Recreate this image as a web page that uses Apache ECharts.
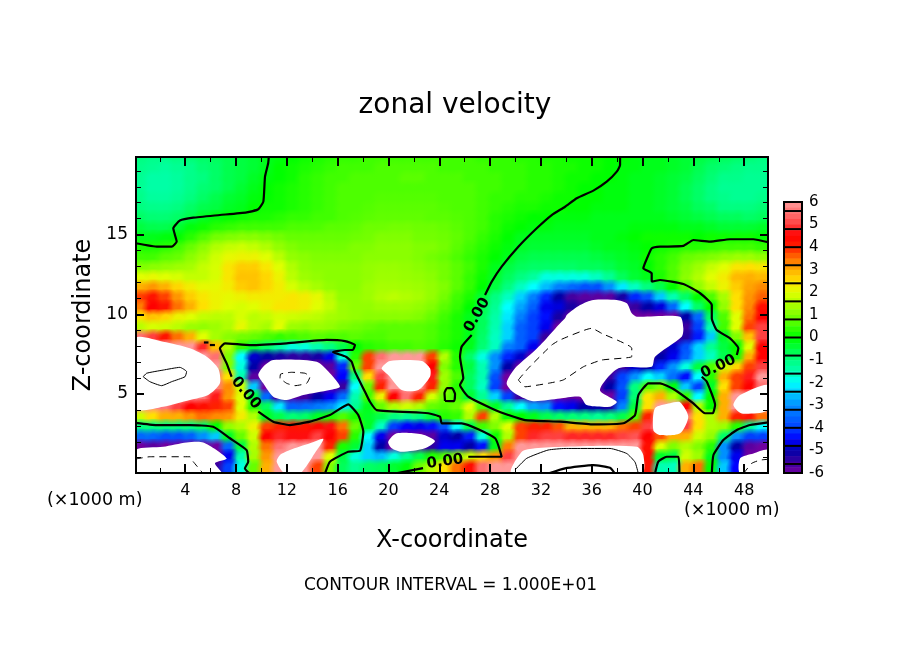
<!DOCTYPE html>
<html>
<head>
<meta charset="utf-8">
<title>zonal velocity</title>
<script src="https://cdn.jsdelivr.net/npm/echarts@6/dist/echarts.min.js"></script>
<style>
  html, body { margin: 0; padding: 0; background: #fff; }
  #main { width: 904px; height: 654px; }
</style>
</head>
<body>
<div id="main"></div>
<script>
// field, km. 7 / -7 = beyond the colour scale (white)
const xCentres = [.5,1.5,2.5,3.5,4.5,5.5,6.5,7.5,8.5,9.5,10.5,11.5,12.5,13.5,14.5,15.5,16.5,17.5,18.5,19.5,20.5,21.5,22.5,23.5,24.5,25.5,26.5,27.5,28.5,29.5,30.5,31.5,32.5,33.5,34.5,35.5,36.5,37.5,38.5,39.5,40.5,41.5,42.5,43.5,44.5,45.5,46.5,47.5,48.5,49.5];
const zCentres = [19.69,19.06,18.44,17.81,17.19,16.56,15.94,15.31,14.69,14.06,13.44,12.81,12.19,11.56,10.94,10.31,9.69,9.06,8.44,7.81,7.19,6.56,5.94,5.31,4.69,4.06,3.44,2.81,2.19,1.56,.94,.31];
const uRows = [
[-1,-1.1,-1.1,-1,-.9,-.8,-.7,-.6,-.5,-.4,-.2,-.1,0,.1,.2,.3,.4,.4,.5,.5,.5,.5,.5,.5,.5,.5,.5,.4,.4,.4,.3,.3,.2,.2,.1,.1,.1,0,0,-.1,-.2,-.2,-.3,-.4,-.5,-.6,-.7,-.8,-.9,-1],
[-1.1,-1.2,-1.3,-1.2,-1.1,-.9,-.8,-.6,-.5,-.4,-.2,0,.1,.2,.3,.4,.5,.5,.5,.6,.6,.6,.6,.6,.5,.5,.5,.5,.4,.4,.4,.3,.3,.2,.2,.1,.1,0,-.1,-.1,-.2,-.2,-.3,-.4,-.6,-.8,-.9,-1,-1.1,-1.1],
[-1.2,-1.4,-1.4,-1.3,-1.1,-1,-.8,-.6,-.5,-.3,-.1,0,.1,.3,.4,.5,.5,.6,.6,.6,.6,.7,.7,.6,.6,.6,.5,.5,.5,.4,.4,.3,.3,.2,.1,.1,0,0,-.1,-.2,-.2,-.3,-.4,-.5,-.7,-.9,-1.1,-1.1,-1.2,-1.2],
[-1.2,-1.4,-1.4,-1.3,-1.1,-.9,-.8,-.6,-.4,-.2,0,.1,.2,.3,.4,.5,.6,.6,.6,.6,.6,.6,.6,.6,.6,.6,.6,.5,.5,.4,.4,.3,.3,.2,.1,0,0,-.1,-.1,-.2,-.2,-.3,-.4,-.6,-.8,-1,-1.2,-1.2,-1.2,-1.2],
[-1.1,-1.3,-1.3,-1.2,-1,-.8,-.6,-.4,-.3,-.1,0,.1,.2,.3,.4,.5,.6,.6,.6,.65,.65,.65,.65,.65,.6,.6,.6,.5,.4,.4,.3,.3,.2,.1,.1,0,0,-.1,-.1,-.2,-.2,-.3,-.4,-.6,-.8,-1,-1.1,-1.2,-1.2,-1.1],
[-1,-1.1,-1.1,-1,-.8,-.6,-.5,-.3,-.2,0,.1,.1,.2,.3,.4,.5,.6,.6,.65,.7,.7,.7,.7,.7,.65,.6,.6,.5,.4,.3,.2,.2,.1,.1,0,0,-.1,-.1,-.1,-.2,-.2,-.3,-.4,-.5,-.7,-.8,-1,-1,-1,-.9],
[-.8,-.9,-.9,-.8,-.6,-.3,-.1,0,.1,.2,.2,.3,.4,.4,.5,.5,.6,.65,.7,.75,.75,.75,.75,.7,.7,.65,.6,.5,.3,.2,.1,0,0,-.1,-.1,-.1,-.2,-.2,-.2,-.2,-.2,-.2,-.3,-.4,-.5,-.6,-.7,-.7,-.8,-.7],
[-.5,-.6,-.6,-.4,-.1,.1,.3,.4,.5,.5,.5,.5,.6,.6,.6,.7,.7,.75,.85,.85,.9,.9,.85,.85,.8,.7,.6,.5,.3,.1,0,-.1,-.1,-.2,-.2,-.2,-.2,-.2,-.2,-.1,-.1,-.1,-.1,-.2,-.2,-.3,-.4,-.4,-.4,-.3],
[-.2,-.2,-.1,0,.3,.6,.9,1,1.1,1.1,1,.9,.8,.8,.8,.8,.8,.85,.9,1,1,1,.9,.9,.85,.75,.6,.4,.2,0,-.2,-.3,-.3,-.3,-.3,-.3,-.2,-.2,-.1,0,.1,.1,.1,.1,0,.1,.1,.1,.1,0],
[.2,.2,.3,.5,.8,1.1,1.5,1.7,1.8,1.7,1.5,1.2,1,.9,.9,.9,.9,1,1,1.1,1.1,1.1,1,1,.9,.7,.5,.3,.1,-.1,-.3,-.4,-.4,-.4,-.4,-.4,-.3,-.2,-.2,-.1,0,.1,.2,.3,.3,.4,.5,.5,.5,.4],
[.5,.5,.7,.8,1.1,1.4,1.8,2.1,2.2,2.2,2,1.6,1.2,1.1,1,1,1,1,1.1,1.1,1.1,1.1,1,.9,.8,.6,.4,.2,0,-.2,-.5,-.6,-.6,-.6,-.6,-.6,-.5,-.4,-.3,-.2,.1,.3,.5,.8,.9,1,1.2,1.3,1.3,1.2],
[1,1.1,1.2,1.3,1.4,1.7,1.9,2.4,2.7,2.7,2.4,2,1.5,1.2,1.1,1.1,1.1,1.1,1.2,1.25,1.25,1.2,1.1,1,.9,.7,.5,.2,-.2,-.5,-.7,-.8,-.8,-.8,-.8,-.7,-.7,-.6,-.4,-.3,0,.3,.6,1,1.3,1.7,2,2.4,2.5,2.4],
[2,2.1,2,1.9,1.7,1.7,1.9,2.4,2.8,2.8,2.6,2.2,1.6,1.3,1.2,1.1,1.1,1.1,1.2,1.3,1.3,1.25,1.2,1.1,.9,.7,.4,.1,-.3,-.7,-1,-1.3,-1.8,-1.8,-1.8,-1.8,-1.6,-1.2,-.7,-.4,-.2,.2,.6,1.1,1.5,2,2.3,2.9,3,2.9],
[3,3.2,3,2.6,2.3,2.1,2.1,2.3,2.7,2.8,2.6,2.3,1.9,1.6,1.4,1.2,1.1,1.1,1.3,1.4,1.4,1.35,1.3,1.2,1,.7,.4,0,-.5,-1,-1.6,-2,-2.6,-3.2,-3.5,-3.8,-3.8,-3,-2.2,-1.6,-1,-.6,0,.6,1.2,1.7,2.2,2.7,3.1,3.3],
[3.8,4.2,3.8,3.2,2.7,2.4,2.2,2.1,2.2,2.3,2.3,2.3,2.4,2.3,2.1,1.6,1.2,1.2,1.3,1.5,1.6,1.5,1.4,1.2,.9,.5,.2,-.4,-1,-1.6,-2.4,-3.2,-4.2,-5,-5.6,-5.8,-5.8,-5.8,-5.2,-4.2,-3.8,-2.5,-1.5,-.8,0,.6,1.4,2.5,3.2,3.6],
[3.4,4.5,4.2,3.5,3,2.5,2.2,2,1.9,2,2.2,2.4,2.4,2.3,2,1.7,1.3,1.2,1.2,1.3,1.3,1.3,1.2,1,.7,.4,0,-.6,-1.2,-2,-2.8,-3.6,-4.6,-4.7,-5.2,-5.5,-7,-7,-7,-5.5,-5,-4.7,-3.5,-2,-.8,0,1.2,2.5,3.3,4.3],
[2.5,2.8,2.6,2.2,2,1.7,1.6,1.6,1.9,1.6,1.7,1.9,1.8,1.7,1.6,1.4,1.3,1.2,1.1,1.1,1.1,1.1,1,.8,.5,.2,-.2,-.7,-1.4,-2.2,-3.2,-4,-4.4,-5.2,-7,-7,-7,-7,-7,-7,-6.5,-6.5,-6,-5,-3.5,-.8,.6,2,3.5,4.5],
[1.6,1.9,1.8,1.6,1.3,1.2,1.3,1.5,2.1,1.6,1.4,2,1.3,1.2,1.3,1.2,1,.9,.8,.7,.7,.7,.7,.6,.4,.2,-.2,-.7,-1.5,-2.4,-3.6,-4,-4.6,-7,-7,-7,-7,-7,-7,-7,-7,-7,-7,-5.5,-4,-1.5,.5,2,3.8,5],
[5.5,5,4.2,3.5,3,2,1.4,1.1,.9,.8,.6,.4,.5,.6,.7,.6,.6,.7,.6,.6,.7,.7,.7,.6,.4,.2,-.2,-.8,-1.6,-2.4,-3.6,-4,-5.5,-7,-7,-7,-7,-7,-7,-7,-7,-7,-7,-5.3,-4.3,-2.5,-.3,1,2.8,5],
[6,7,7,7,6.5,4.8,2.8,1.5,.4,-.4,-.8,-1.3,-1.8,-1.8,-1.5,-1,-.6,0,.3,.4,.5,.5,.6,.5,.3,.1,-.2,-.9,-1.6,-3.2,-3.6,-4.6,-7,-7,-7,-7,-7,-7,-7,-7,-7,-5.5,-4.8,-3.8,-2.4,-1.2,-.5,0,2,4.5],
[6,7,7,7,7,7,5.5,1,-2,-4.8,-5,-5.2,-5.4,-5.4,-5.2,-4.6,-1.8,.3,3.8,5.5,7,7,6,3.8,1.5,.3,-.8,-1.8,-3,-4.2,-4.8,-7,-7,-7,-7,-7,-7,-7,-7,-7,-7,-5,-4.6,-3.6,-2.4,-1.6,-.6,.2,3,4.5],
[7,7,7,7,7,7,6,1,-1.8,-5,-7,-7,-7,-7,-7,-5.8,-4.2,.8,3.8,6,7,7,7,4.5,1,.3,-.5,-1.5,-3,-5,-7,-7,-7,-7,-7,-7,-7,-7,-5.5,-4.8,-5,-4.2,-3,-1.8,-.5,.6,1.8,2.6,3.8,5],
[7,7,7,7,7,7,5.5,2.5,-1.5,-5.8,-7,-7,-7,-7,-7,-7,-4.5,-1,2.5,5,7,7,7,4.7,1.3,.6,-.7,-1.5,-3.8,-7,-7,-7,-7,-7,-7,-7,-7,-5.5,-4,-3,-2,-2.4,-3.4,-4.4,-2,.3,3,3.8,4.7,6],
[7,7,7,7,7,7,5.7,3.3,1.8,-2.5,-7,-7,-7,-7,-7,-7,-5.5,-2,.8,4,6,7,6.2,4,1.2,.3,-.7,-1.6,-4,-7,-7,-7,-7,-7,-7,-7,-6,-5,-3.8,-1,.6,1,-.1,-2.5,-4,-.3,2.5,3.8,4.5,5.5],
[7,7,7,7,6.2,5.6,4.7,3.2,2,-.5,-3.5,-5.5,-5.8,-5.6,-5,-4.6,-3.5,-1.5,.5,2.2,4.5,5.5,4,1.9,.9,.5,-.4,-1.2,-2.4,-4,-5.5,-5.8,-5.8,-6,-5.8,-6.5,-7,-7,-4,-.9,2.4,3,1.5,.4,-2,0,3,6.5,7,7],
[6,5.8,5.6,5,4.5,4.3,4,3.8,2,.3,-.7,-2.2,-3.6,-3.5,-3.3,-3,-2.2,-1.2,-.2,.8,1.5,1.8,1.5,.8,.6,.8,2,.6,-.3,-1.2,-2,-2.8,-3,-4.4,-4.6,-5,-5,-5.2,-3.2,-.5,2.5,6.5,7,4.5,1.5,0,3,6,7,6],
[1.8,2.5,3,3,3.2,3.5,3.3,3.2,2.3,1.5,-.3,-.6,-.9,-.8,-.3,.2,.6,.2,-.3,-.6,-1,-1.2,-1,-.5,.3,.4,1.5,3.8,1.5,.1,0,-.2,-.6,-.8,-.9,-1,-1.2,-1,-.6,.6,4,7,7,5.5,2.5,1.5,3,4,4.2,3.5],
[-1,-1,-1,-1,-1,-.8,0,1.2,1.5,2.2,3.8,4,4.2,4.2,4.4,4.6,3.5,.8,-.3,-1.6,-4,-4.5,-4.6,-4.4,-3.8,-2,-.6,.5,1,2,3.8,4,4,3.7,3,3,3,3,3.5,3.8,5,7,7,5,2.5,1.5,1.3,.3,-1.2,-2],
[-3.5,-3.5,-3.8,-3.8,-3.6,-3,-2.5,-.3,.8,1.8,4.5,4.8,4.6,4.6,5,4.5,3.8,.3,-2,-4.6,-7,-7,-7,-5.8,-4.8,-5,-4.3,-1.8,.1,1.5,3.8,4.8,5,5,4.8,4.8,4.8,4.8,5,5.2,4.5,3.7,3,3,1.8,1.2,-.8,-3,-4,-4],
[-6,-5.8,-6.5,-7,-7,-7,-7,-3.5,-.5,1.5,3.5,5.5,6.5,7,6.5,4,.2,-.4,-2.4,-5,-7,-7,-6.5,-5.4,-4.6,-4.6,-5,-4.4,-.2,3.4,6.5,7,7,7,7,7,7,7,7,6.5,4.3,2,1,1.5,1,.3,-3,-5,-5.8,-6],
[-7,-7,-7,-7,-7,-7,-7,-4.6,-1.5,1.4,3.2,6,7,7,6,2,-.5,-1.8,-2.4,-2.6,-1.8,-1.2,-.6,.2,.6,1.2,1.8,2.5,3.2,5,7,7,7,7,7,7,7,7,7,7,4.3,-.3,-.5,1.8,1.3,-.2,-3,-4.6,-7,-7],
[-7,-7,-7,-7,-7,-7,-5.5,-4,-1.8,.8,3,6,7,6,3.8,1,-.7,-1.2,-.8,-.7,-.4,-.1,.8,1.5,2.5,3.5,4.3,5.5,6.5,7,7,7,7,7,7,7,7,7,7,7,4.2,-1.5,-1.6,3,3.5,0,-2.5,-4.5,-7,-7]
];

// colour levels from -6 to 6 in steps of .5
const levelColors = ['#7000a0','#3800a0','#0000a8','#0000ff','#0040ff','#0068ff','#0090ff','#00c8ff','#00ffff','#00ffb0','#00ff80','#00ff40','#00ff00','#40ff00','#80ff00','#b0ff00','#e0ff00','#ffe000','#ffb000','#ff7000','#ff2000','#ff0000','#ff4040','#ff7070','#ff9999'];
const barLevels = [5.875,5.625,5.375,5.125,4.875,4.625,4.375,4.125,3.875,3.625,3.375,3.125,2.875,2.625,2.375,2.125,1.875,1.625,1.375,1.125,.875,.625,.375,.125,-.125,-.375,-.625,-.875,-1.125,-1.375,-1.625,-1.875,-2.125,-2.375,-2.625,-2.875,-3.125,-3.375,-3.625,-3.875,-4.125,-4.375,-4.625,-4.875,-5.125,-5.375,-5.625,-5.875];
const barBreaks = [5.6,4.8,4,3.2,2.4,1.6,.8,0,-.8,-1.6,-2.4,-3.2,-4,-4.8,-5.6];
const barTicks = [-6,-5,-4,-3,-2,-1,0,1,2,3,4,5,6];

const xMajor = [4,8,12,16,20,24,28,32,36,40,44,48];
const xMinor = [2,6,10,14,18,22,26,30,34,38,42,46];
const zMajor = [5,10,15];
const zMinor = [1,2,3,4,6,7,8,9,11,12,13,14,16,17,18,19];

// areas beyond the colour scale, outlined in km
const whiteLeft = [[.1,8.49],[2.27,8.28],[4.37,7.87],[5.69,7.34],[6.6,6.6],[6.73,5.67],[5.81,4.93],[4.37,4.62],[2.27,4.2],[.1,4.09]];
const whiteMid = [[9.75,6.19],[10.14,6.71],[10.93,7.13],[14.35,7.02],[15.39,6.3],[16.18,5.45],[15.39,5.25],[13.29,4.93],[11.98,4.62],[10.93,4.83],[10.14,5.67]];
const whiteWarm = [[19.46,6.61],[20.12,7.07],[22.61,7.07],[23.27,6.61],[23.27,6.08],[22.35,5.25],[21.04,5.25],[19.98,6.19]];
const whiteBig = [[29.3,5.67],[29.96,6.61],[31.28,7.55],[32.33,8.39],[33.38,9.33],[33.9,9.75],[34.03,9.96],[35.08,10.58],[36.13,10.9],[37.97,10.9],[38.76,10.69],[39.15,10.06],[39.54,9.85],[42.95,9.85],[43.21,9.12],[43.08,8.59],[40.98,7.34],[40.72,6.71],[38.1,6.61],[36.65,5.25],[37.97,4.51],[37.44,4.2],[35.6,4.3],[35.08,4.82],[33.5,4.72],[31.28,4.56],[29.83,5.1]];
const whiteLowLeft = [[.1,1.48],[2.27,1.69],[4.11,1.96],[5.42,1.96],[7.26,.96],[6.34,.65],[6.87,0],[.1,0]];
const whiteLowMid = [[14.87,2.17],[13.82,1.9],[12.24,1.48],[11.46,1.17],[11.2,.75],[11.85,0],[13.03,0],[14.21,1.29]];
const whiteCold = [[19.98,2],[20.65,2.53],[22.61,2.47],[23.66,2.05],[22.87,1.59],[21.04,1.37],[20.25,1.59]];
const whiteBand = [[29.7,0],[30.49,1.37],[31.54,1.59],[33.9,1.69],[39.54,1.69],[40.06,1.17],[39.94,0]];
const whiteKnob = [[40.98,4.1],[42.17,4.41],[42.95,4.48],[43.6,3.57],[42.95,2.53],[41.38,2.42],[40.85,2.73]];
const whiteRight = [[47.15,4.31],[47.68,4.93],[49.9,5.56],[49.9,3.99],[47.81,3.78]];
const whiteLowRight = [[47.68,.96],[48.73,1.27],[49.9,1.48],[49.9,0],[47.68,0]];

// zero contours (heavy)
const zeroTopLeft = [[.1,14.46],[1.85,14.24],[2.93,14.24],[3.33,14.56],[3.19,14.98],[3.06,15.4],[3.58,15.88],[4.63,16.06],[6.73,16.23],[8.84,16.4],[9.75,16.59],[10.15,17.07],[10.28,18.64],[10.53,19.48],[10.58,19.9]];
const zeroUpper = [[27.6,11.21],[28.13,12.05],[28.91,12.99],[30.22,14.24],[31.67,15.4],[32.85,16.23],[33.9,16.75],[34.82,17.28],[36.13,17.76],[37.18,18.32],[37.97,18.95],[38.23,19.37],[38.23,19.9]];
const zeroMiddle = [[26.55,8.7],[25.76,7.97],[25.63,7.34],[25.89,5.98],[25.63,5.56],[26.28,4.83],[28.39,3.99],[29.43,3.68],[30.75,3.36],[33.5,3.26],[36.13,3.09],[38.49,3.16],[39.41,3.68],[39.67,4.93],[40.46,5.67],[41.38,5.67],[42.43,5.31],[44,4.41],[44.92,3.79],[45.53,3.79],[45.71,4.31],[45.06,5.77],[44.66,6.08]];
const zeroRight = [[47.42,7.44],[47.54,7.87],[46.89,8.49],[45.84,9.01],[45.45,9.75],[45.45,10.58],[44.53,11.32],[43.21,11.9],[41.38,12.15],[40.72,12.05],[40.72,12.57],[40.06,12.89],[40.46,13.72],[40.72,14.14],[41.38,14.24],[43.21,14.29],[44,14.66],[45.31,14.56],[46.89,14.71],[48.72,14.71],[49.9,14.52]];
const zeroCentre = [[7.65,6.08],[7.26,6.92],[6.73,7.87],[7.13,8.18],[9.09,8.07],[11.98,8.18],[15.13,8.39],[16.57,8.32],[17.36,8.07],[17.2,7.76],[16.57,7.76],[15.63,7.63],[16.65,7.34],[17.1,7.02],[17.36,6.4],[18.15,5.14],[18.54,4.51],[19.07,3.99],[23.13,3.79],[24.06,3.57],[24.19,3.16],[25.76,3.16],[28.39,2.22],[28.91,1.06],[26.28,1.06]];
const zeroBottom = [[20.5,0],[22.72,.35]];
const zeroLowLeft = [[.1,3.19],[1.75,3.05],[4.37,3.05],[6.2,2.94],[7.52,2.22],[8.83,1.48],[8.96,.75],[8.7,.33],[9.09,0]];
const zeroLowMid = [[9.75,3.89],[10.93,3.26],[12.24,3.05],[13.82,3.26],[15.39,3.68],[16.83,4.35],[17.62,3.68],[18.02,2.63],[17.76,1.44],[16.83,1.37],[15.39,.75],[15,0]];
const zeroKnob = [[40.98,0],[41.24,.75],[41.9,1.06],[42.82,1.06],[42.9,0]];
const zeroLowRight = [[45.45,0],[45.58,1.17],[46.36,2.11],[47.42,2.74],[48.46,3.05],[49.9,3.22]];
const zeroLoop = [[24.45,4.56],[24.41,5.06],[24.61,5.37],[25,5.37],[25.24,4.99],[25.16,4.55],[24.45,4.56]];
const zeroDashA = [[5.47,8.23],[5.83,8.23]];
const zeroDashB = [[5.94,8.07],[6.34,8.07]];
const zeroRibbon = [[32.56,0],[33.9,.33],[36.13,.54],[37.44,.37],[37.83,0]];
const heavyLines = [zeroTopLeft,zeroUpper,zeroMiddle,zeroRight,zeroCentre,zeroBottom,zeroLowLeft,zeroLowMid,zeroKnob,zeroLowRight,zeroLoop,zeroDashA,zeroDashB,zeroRibbon];

// other contours (thin)
const plusLeft = [[.69,6.08],[.96,6.3],[2.27,6.5],[3.58,6.67],[4.11,6.4],[3.98,6.08],[2.93,5.77],[2.14,5.52],[1.22,5.77],[.69,6.08]];
const plusLower = [[29.96,.23],[30.88,.96],[32.56,1.48],[33.9,1.58],[37.44,1.58],[38.76,1.26],[39.41,.72],[39.67,0]];
const thinLines = [plusLeft,plusLower];
const minusMid = [[11.46,5.98],[11.51,6.25],[12.38,6.36],[13.43,6.3],[13.82,6.08],[13.56,5.67],[12.64,5.52],[11.98,5.67],[11.46,5.98]];
const minusBig = [[30.22,5.88],[31,6.61],[32.85,8.07],[33.5,8.39],[36,9.12],[36.79,8.8],[39.15,7.87],[39.15,7.34],[36.79,7.13],[35.35,6.71],[33.76,5.88],[32.58,5.67],[30.75,5.45],[30.22,5.88]];
const minusLowLeft = [[.1,.92],[1.22,1.06],[4.37,1.06],[4.63,.75],[5.42,0]];
const minusLowRight = [[47.94,0],[48.6,.65],[49.25,.85],[49.9,.9]];
const dashedLines = [minusMid,minusBig,minusLowLeft,minusLowRight];

// x, z, rotation of the contour labels
const labelX = [26.97,8.78,24.45,45.97];
const labelZ = [9.95,5.06,.75,6.71];
const labelRot = [60,-50,8,25];

const FONT = '"DejaVu Sans", sans-serif';
const chart = echarts.init(document.getElementById('main'), null, { renderer: 'canvas' });

const cells = [];
uRows.forEach((row, r) => row.forEach((v, c) => cells.push([xCentres[c], zCentres[r], v])));
const patches = [whiteLeft,whiteMid,whiteWarm,whiteBig,whiteLowLeft,whiteLowMid,whiteCold,whiteBand,whiteKnob,whiteRight,whiteLowRight];

function xAxis(pos, values, len, width, labels) {
  return {
    type: 'value', gridIndex: 0, position: pos, min: 0.125, max: 49.875, z: 10,
    splitLine: { show: false }, minorTick: { show: false },
    axisLine: { show: true, onZero: false, lineStyle: { color: '#000', width: 2 } },
    axisTick: { show: true, inside: true, length: len, customValues: values, lineStyle: { color: '#000', width: width } },
    axisLabel: labels
      ? { show: true, customValues: values, margin: 10, color: '#000', fontSize: 16, fontFamily: FONT }
      : { show: false },
  };
}
function yAxis(pos, values, len, width, labels) {
  return {
    type: 'value', gridIndex: 0, position: pos, min: 0.04, max: 19.87, z: 10,
    splitLine: { show: false }, minorTick: { show: false },
    axisLine: { show: true, onZero: false, lineStyle: { color: '#000', width: 2 } },
    axisTick: { show: true, inside: true, length: len, customValues: values, lineStyle: { color: '#000', width: width } },
    axisLabel: labels
      ? { show: true, customValues: values, margin: 8, color: '#000', fontSize: 17, fontFamily: FONT, padding: [6, 0, 0, 0] }
      : { show: false },
  };
}

const xAxes = [
  Object.assign(xAxis('bottom', xMajor, 9, 2, true), {
    name: 'X-coordinate', nameLocation: 'middle', nameGap: 56,
    nameTextStyle: { color: '#000', fontSize: 24, fontFamily: FONT },
  }),
  xAxis('bottom', xMinor, 5, 1, false),
  xAxis('top', xMajor, 9, 2, false),
  xAxis('top', xMinor, 5, 1, false),
  { type: 'value', gridIndex: 1, min: 0, max: 1, show: false },
];
const yAxes = [
  Object.assign(yAxis('left', zMajor, 8, 2, true), {
    name: 'Z-coordinate', nameLocation: 'middle', nameGap: 39, nameRotate: 90,
    nameTextStyle: { color: '#000', fontSize: 24, fontFamily: FONT },
  }),
  yAxis('left', zMinor, 5, 1, false),
  yAxis('right', zMajor, 8, 2, false),
  yAxis('right', zMinor, 5, 1, false),
  {
    type: 'value', gridIndex: 1, position: 'right', min: -6, max: 6,
    splitLine: { show: false },
    axisLine: { show: false }, axisTick: { show: false },
    axisLabel: { show: true, customValues: barTicks, margin: 7, color: '#000', fontSize: 15, fontFamily: FONT },
  },
];

const series = [
  {
    type: 'custom', name: 'u', xAxisIndex: 0, yAxisIndex: 0, clip: true, z: 1, silent: true,
    data: cells, encode: { x: 0, y: 1 }, animation: false,
    renderItem(params, api) {
      const a = api.coord([api.value(0) - 0.5, api.value(1) + 0.3125]);
      const b = api.coord([api.value(0) + 0.5, api.value(1) - 0.3125]);
      return {
        type: 'rect',
        shape: { x: Math.floor(a[0]), y: Math.floor(a[1]), width: Math.ceil(b[0] - a[0]) + 1, height: Math.ceil(b[1] - a[1]) + 1 },
        style: { fill: api.visual('color') },
      };
    },
  },
  {
    // second pass over the same cells with soft edges, so the mosaic blends
    type: 'custom', name: 'uSoft', xAxisIndex: 0, yAxisIndex: 0, clip: true, z: 1.5, silent: true,
    data: cells, encode: { x: 0, y: 1 }, animation: false,
    renderItem(params, api) {
      const a = api.coord([api.value(0) - 1, api.value(1) + 0.625]);
      const b = api.coord([api.value(0) + 1, api.value(1) - 0.625]);
      const c = api.visual('color');
      return {
        type: 'rect',
        shape: { x: a[0], y: a[1], width: b[0] - a[0], height: b[1] - a[1] },
        style: {
          fill: new echarts.graphic.RadialGradient(0.5, 0.5, 0.62, [
            { offset: 0, color: c },
            { offset: 0.35, color: c },
            { offset: 1, color: echarts.color.modifyAlpha(c, 0) },
          ]),
        },
      };
    },
  },
  {
    type: 'custom', name: 'beyond', xAxisIndex: 0, yAxisIndex: 0, clip: true, z: 2, silent: true,
    data: patches.map((p, i) => [p[0][0], p[0][1], i]), encode: { x: 0, y: 1 }, animation: false,
    renderItem(params, api) {
      const pts = patches[params.dataIndex].map(p => api.coord(p));
      return { type: 'polygon', shape: { points: pts, smooth: 0.25 }, style: { fill: '#fff' } };
    },
  },
];
heavyLines.forEach(d => series.push({
  type: 'line', data: d, xAxisIndex: 0, yAxisIndex: 0, showSymbol: false, symbol: 'none', smooth: 0.15, z: 3, silent: true,
  lineStyle: { color: '#000', width: 2.2 }, animation: false,
}));
thinLines.forEach(d => series.push({
  type: 'line', data: d, xAxisIndex: 0, yAxisIndex: 0, showSymbol: false, symbol: 'none', smooth: 0.15, z: 3, silent: true,
  lineStyle: { color: '#000', width: 1 }, animation: false,
}));
dashedLines.forEach(d => series.push({
  type: 'line', data: d, xAxisIndex: 0, yAxisIndex: 0, showSymbol: false, symbol: 'none', smooth: 0.15, z: 3, silent: true,
  lineStyle: { color: '#000', width: 1, type: [7, 5] }, animation: false,
}));
series.push({
  type: 'custom', name: 'labels', xAxisIndex: 0, yAxisIndex: 0, z: 4, silent: true, animation: false,
  data: labelX.map((x, i) => [x, labelZ[i], labelRot[i]]), encode: { x: 0, y: 1 },
  renderItem(params, api) {
    const p = api.coord([api.value(0), api.value(1)]);
    return {
      type: 'text', x: p[0], y: p[1], rotation: api.value(2) * Math.PI / 180,
      style: { text: '0.00', fill: '#000', font: 'bold 15px ' + FONT, align: 'center', verticalAlign: 'middle' },
    };
  },
});
// colour bar
const barIndex = series.length;
series.push({
  type: 'custom', name: 'bar', xAxisIndex: 4, yAxisIndex: 4, z: 1, silent: true, animation: false,
  data: barLevels.map(v => [0.5, v, v]), encode: { x: 0, y: 1 },
  renderItem(params, api) {
    const a = api.coord([0, api.value(1) + 0.125]);
    const b = api.coord([1, api.value(1) - 0.125]);
    return { type: 'rect', shape: { x: a[0], y: a[1], width: b[0] - a[0], height: b[1] - a[1] + 0.5 }, style: { fill: api.visual('color') } };
  },
});
series.push({
  type: 'custom', name: 'barBreaks', xAxisIndex: 4, yAxisIndex: 4, z: 2, silent: true, animation: false,
  data: barBreaks.map(v => [0.5, v]), encode: { x: 0, y: 1 },
  renderItem(params, api) {
    const a = api.coord([0, api.value(1)]);
    const b = api.coord([1, api.value(1)]);
    return { type: 'line', shape: { x1: a[0], y1: a[1], x2: b[0], y2: b[1] }, style: { stroke: '#000', lineWidth: 2 } };
  },
});

chart.setOption({
  backgroundColor: '#fff',
  animation: false,
  title: {
    text: 'zonal velocity', left: 450, top: 87, textAlign: 'center',
    textStyle: { color: '#000', fontSize: 28, fontWeight: 'normal', fontFamily: FONT },
  },
  grid: [
    { left: 136, top: 157, width: 632, height: 316, show: false, containLabel: false },
    { left: 784, top: 202, width: 18, height: 271, show: true, borderColor: '#000', borderWidth: 2, backgroundColor: 'transparent', containLabel: false, z: 5 },
  ],
  xAxis: xAxes,
  yAxis: yAxes,
  visualMap: {
    show: false, type: 'continuous', min: -6, max: 6, dimension: 2, seriesIndex: [0, 1, barIndex],
    inRange: { color: levelColors }, outOfRange: { color: '#fff' },
  },
  graphic: [
    { type: 'text', left: 47, top: 491, style: { text: '(×1000 m)', fill: '#000', font: '17.5px ' + FONT } },
    { type: 'text', left: 684, top: 501, style: { text: '(×1000 m)', fill: '#000', font: '17.5px ' + FONT } },
    { type: 'text', left: 304, top: 577, style: { text: 'CONTOUR INTERVAL = 1.000E+01', fill: '#000', font: '17px ' + FONT } },
  ],
  series,
});
</script>
</body>
</html>
